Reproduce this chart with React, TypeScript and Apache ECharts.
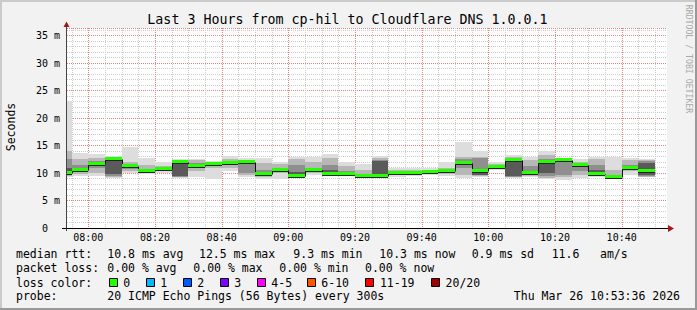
import React, { useEffect, useRef } from "react";
import * as echarts from "echarts";

// ---------- text ----------
const titleText = "Last 3 Hours from cp-hil to Cloudflare DNS 1.0.0.1";
const yAxisName = "Seconds";
const watermark = "RRDTOOL / TOBI OETIKER";

// ---------- time range ----------
const viewStart = "07:53:36";
const viewEnd = "10:53:36";
const binMinutes = 5;

// ---------- bins (5 min each) ----------
const binStarts = [
  "07:50", "07:55", "08:00", "08:05", "08:10", "08:15", "08:20", "08:25", "08:30", "08:35", "08:40", "08:45",
  "08:50", "08:55", "09:00", "09:05", "09:10", "09:15", "09:20", "09:25", "09:30", "09:35", "09:40", "09:45",
  "09:50", "09:55", "10:00", "10:05", "10:10", "10:15", "10:20", "10:25", "10:30", "10:35", "10:40", "10:45",
];

// median rtt (ms)
const medianMs = [
  10.1, 10.6, 11.6, 12.5, 11.2, 10.3, 10.8, 12.0, 11.3, 11.7, 11.9, 12.1,
  9.9, 10.6, 9.5, 10.6, 9.8, 9.9, 9.4, 9.5, 10.1, 10.1, 10.2, 10.4,
  11.8, 10.3, 11.1, 12.3, 10.1, 12.1, 12.4, 11.5, 9.9, 9.3, 11.0, 10.3,
];

// smoke layers (ms), outer -> inner
const smoke1Lo = [9.3, 9.5, 9.5, 9.1, 10.1, 9.9, 10.0, 9.1, 9.2, 8.9, 10.3, 9.3, 8.9, 9.0, 9.1, 9.7, 9.5, 9.6, 9.1, 9.1, 9.3, 9.4, 9.6, 9.4, 9.1, 9.2, 10.6, 9.1, 9.3, 8.9, 8.8, 9.1, 9.3, 9.2, 9.6, 9.2];
const smoke1Hi = [23.2, 13.6, 13.5, 13.1, 14.7, 12.8, 12.1, 12.6, 12.6, 12.2, 13.1, 12.7, 12.7, 12.1, 13.0, 13.0, 13.5, 12.1, 11.7, 13.1, 11.0, 11.0, 11.0, 12.1, 15.7, 14.0, 12.1, 13.3, 12.9, 14.1, 12.7, 12.5, 13.0, 13.0, 12.8, 12.6];
const smoke2Lo = [9.5, 9.8, 10.0, 9.3, 10.4, 10.0, 10.3, 9.2, 10.4, 10.9, 10.9, 9.6, 9.3, 10.0, 9.3, 10.0, 9.6, 9.7, 9.2, 9.2, 9.7, 9.8, 9.9, 9.9, 9.6, 9.4, 10.8, 9.2, 9.5, 9.1, 9.2, 9.6, 9.5, 9.3, 10.3, 9.3];
const smoke2Hi = [14.0, 12.5, 12.8, 12.9, 12.0, 11.4, 11.3, 12.4, 12.3, 12.0, 12.5, 12.4, 11.8, 11.6, 12.6, 12.0, 12.7, 11.3, 10.6, 12.8, 10.6, 10.5, 10.6, 11.0, 13.0, 13.0, 11.6, 12.9, 12.4, 13.2, 12.6, 12.0, 12.6, 10.5, 12.3, 12.4];
const smoke3Lo = [9.7, 10.2, 10.9, 9.5, 10.8, 10.1, 10.6, 9.3, 11.0, 11.4, 11.5, 10.0, 9.6, 10.4, 9.4, 10.4, 9.7, 9.8, 9.3, 9.3, 9.9, 10.0, 10.1, 10.2, 11.0, 9.6, 10.9, 9.3, 9.7, 9.4, 9.6, 10.3, 9.7, 9.35, 10.8, 9.4];
const smoke3Hi = [12.5, 11.5, 12.2, 12.7, 11.6, 10.8, 11.0, 12.3, 11.8, 11.9, 12.1, 12.2, 10.5, 11.0, 11.5, 11.0, 11.5, 10.4, 9.8, 12.4, 10.3, 10.3, 10.4, 10.6, 12.5, 12.7, 11.3, 12.6, 11.2, 12.5, 12.5, 11.8, 11.5, 9.7, 11.5, 12.2];
const smoke4Lo = [9.8, null, 11.3, 9.8, null, null, null, 9.4, null, null, null, null, null, null, 9.4, null, 9.7, null, null, 9.5, null, null, null, null, 11.5, 9.7, null, 9.5, 9.8, 10.0, null, null, 9.8, null, null, 9.6];
const smoke4Hi = [11.0, null, 11.9, 12.5, null, null, null, 12.1, null, null, null, null, null, null, 10.2, null, 10.5, null, null, 12.2, null, null, null, null, 12.0, 10.6, null, 12.4, 10.4, 12.2, null, null, 10.5, null, null, 11.8];

// ---------- axes ----------
const xTickLabels = ["08:00", "08:20", "08:40", "09:00", "09:20", "09:40", "10:00", "10:20", "10:40"];
const yTickValues = [0, 5, 10, 15, 20, 25, 30, 35];
const yMax = 36.4;
const xMinorStep = 5;
const xMajorStep = 20;
const yMajorStep = 5;
const yMinorSplit = 5;

// ---------- legend ----------
const medianLine = [
  ["median rtt:", 16], ["10.8 ms avg", 107.3], ["12.5 ms max", 199], ["9.3 ms min", 293.3],
  ["10.3 ms now", 379.3], ["0.9 ms sd", 471.7], ["11.6", 551.7], ["am/s", 600],
];
const lossLine = [
  ["packet loss:", 16], ["0.00 % avg", 107.3], ["0.00 % max", 193.3], ["0.00 % min", 279.3], ["0.00 % now", 365],
];
const lossLabels = ["0", "1", "2", "3", "4-5", "6-10", "11-19", "20/20"];
const lossColors = ["#26ff00", "#00b8ff", "#0059ff", "#7e00ff", "#ff00ff", "#ff5500", "#ff0000", "#a10000"];
const lossBoxX = [108.7, 145.7, 182.7, 219.7, 256.7, 306.7, 365.3, 431];
const probeLabel = "probe:";
const probeText = "20 ICMP Echo Pings (56 Bytes) every 300s";
const stampText = "Thu Mar 26 10:53:36 2026";

// ---------- styles ----------
const MONO = '"DejaVu Sans Mono", monospace';
const smokeShades = ["#dddddd", "#b7b7b7", "#8f8f8f", "#5a5a5a"];
const medianColor = "#26ff00";
const minorGridColor = "#cccccc";
const majorGridColor = "#ea8080";
const arrowColor = "#a11a1a";

function toMin(s: string): number {
  const p = s.split(":").map(Number);
  return p[0] * 60 + p[1] + (p[2] || 0) / 60;
}
function fmtMin(v: number): string {
  const t = Math.round(v);
  const h = Math.floor(t / 60);
  const m = t % 60;
  return String(h).padStart(2, "0") + ":" + String(m).padStart(2, "0");
}

function txt(text: string, x: number, y: number, size: number, extra: any = {}) {
  return {
    type: "text",
    x,
    y,
    rotation: extra.rotation || 0,
    silent: true,
    style: {
      text,
      x: 0,
      y: 0,
      font: `${size}px ${MONO}`,
      fill: extra.fill || "#000",
      align: extra.align || "left",
      textAlign: extra.align || "left",
      verticalAlign: "middle",
      textVerticalAlign: "middle",
    },
  };
}

// vertical time grid lines drawn through the x axis scale
function vGridSeries(values: number[], color: string) {
  return {
    type: "custom",
    silent: true,
    z: 1,
    encode: { x: 0, y: 1 },
    data: values.map((t) => [t, 1]),
    renderItem: (params: any, api: any) => {
      const cs = params.coordSys;
      const x = Math.round(api.coord([api.value(0), 0])[0]) + 0.5;
      return {
        type: "line",
        shape: { x1: x, y1: cs.y, x2: x, y2: cs.y + cs.height },
        style: { stroke: color, lineWidth: 1, lineDash: [1, 1] },
      };
    },
  };
}

function buildOption() {
  const xMin = toMin(viewStart);
  const xMax = toMin(viewEnd);
  const starts = binStarts.map(toMin);

  const layers = [
    [smoke1Lo, smoke1Hi],
    [smoke2Lo, smoke2Hi],
    [smoke3Lo, smoke3Hi],
    [smoke4Lo, smoke4Hi],
  ];
  const smokeData: number[][] = [];
  layers.forEach(([lo, hi], li) => {
    starts.forEach((s, i) => {
      if (lo[i] == null || hi[i] == null) return;
      smokeData.push([s, s + binMinutes, lo[i] as number, hi[i] as number, li]);
    });
  });

  const medianData = starts.map((s, i) => [s, s + binMinutes, medianMs[i], i > 0 ? medianMs[i - 1] : NaN, i]);

  const vMinor: number[] = [];
  const vMajor: number[] = [];
  for (let t = Math.ceil(xMin / xMinorStep) * xMinorStep; t < xMax; t += xMinorStep) {
    (t % xMajorStep === 0 ? vMajor : vMinor).push(t);
  }

  const graphics: any[] = [];
  // frame
  graphics.push({ type: "rect", shape: { x: 0, y: 0, width: 697, height: 2 }, style: { fill: "#cbcbcb" }, silent: true });
  graphics.push({ type: "rect", shape: { x: 0, y: 0, width: 2, height: 310 }, style: { fill: "#cbcbcb" }, silent: true });
  graphics.push({ type: "rect", shape: { x: 0, y: 308, width: 697, height: 2 }, style: { fill: "#999999" }, silent: true });
  graphics.push({ type: "rect", shape: { x: 695, y: 0, width: 2, height: 310 }, style: { fill: "#999999" }, silent: true });
  // axis extensions and arrows
  graphics.push({ type: "line", shape: { x1: 62, y1: 228.5, x2: 67, y2: 228.5 }, style: { stroke: "#000", lineWidth: 1 }, silent: true });
  graphics.push({ type: "line", shape: { x1: 66.5, y1: 26, x2: 66.5, y2: 231 }, style: { stroke: "#444", lineWidth: 1 }, silent: true });
  graphics.push({ type: "line", shape: { x1: 667, y1: 228.5, x2: 669, y2: 228.5 }, style: { stroke: "#000", lineWidth: 1 }, silent: true });
  graphics.push({ type: "polygon", shape: { points: [[668, 225], [674, 228.5], [668, 232]] }, style: { fill: arrowColor }, silent: true });
  graphics.push({ type: "polygon", shape: { points: [[63.5, 27], [66.5, 21.5], [69.5, 27]] }, style: { fill: arrowColor }, silent: true });
  // titles
  graphics.push(txt(titleText, 347.5, 19.5, 13.3, { align: "center" }));
  graphics.push(txt(yAxisName, 11, 127, 11.5, { align: "center", rotation: Math.PI / 2 }));
  graphics.push(txt(watermark, 688.5, 59, 8.2, { align: "center", rotation: -Math.PI / 2, fill: "#a9a9a9" }));
  // legend
  medianLine.forEach(([t, x]) => graphics.push(txt(t as string, x as number, 254, 11.5)));
  lossLine.forEach(([t, x]) => graphics.push(txt(t as string, x as number, 268, 11.5)));
  graphics.push(txt("loss color:", 16, 282.5, 11.5));
  lossLabels.forEach((lab, i) => {
    const bx = Math.round(lossBoxX[i]) + 0.5;
    graphics.push({ type: "rect", shape: { x: bx, y: 278.5, width: 8, height: 8 }, style: { fill: lossColors[i], stroke: "#000", lineWidth: 1 }, silent: true });
    graphics.push(txt(lab, lossBoxX[i] + 14.6, 282.5, 11.5));
  });
  graphics.push(txt(probeLabel, 16, 296.3, 11.5));
  graphics.push(txt(probeText, 107.3, 296.3, 11.5));
  graphics.push(txt(stampText, 680, 296.3, 11.5, { align: "right" }));

  return {
    animation: false,
    backgroundColor: "#f2f2f2",
    grid: {
      left: 67,
      top: 28,
      width: 600,
      height: 200,
      show: true,
      backgroundColor: "#ffffff",
      borderWidth: 0,
      containLabel: false,
      outerBoundsMode: "none",
    },
    xAxis: {
      type: "value",
      min: xMin,
      max: xMax,
      axisLine: { show: true, lineStyle: { color: "#000", width: 1 } },
      axisTick: { show: false },
      splitLine: { show: false },
      axisLabel: {
        customValues: xTickLabels.map(toMin),
        formatter: (v: number) => fmtMin(v),
        fontFamily: MONO,
        fontSize: 10,
        color: "#000",
        margin: 4,
      },
    },
    yAxis: {
      type: "value",
      min: 0,
      max: yMax,
      interval: yMajorStep,
      axisLine: { show: false },
      axisTick: { show: false },
      splitLine: { show: true, lineStyle: { color: majorGridColor, width: 1, type: [1, 1] } },
      minorTick: { show: false, splitNumber: yMinorSplit },
      minorSplitLine: { show: true, lineStyle: { color: minorGridColor, width: 1, type: [1, 1] } },
      axisLabel: {
        customValues: yTickValues,
        formatter: (v: number) => (v === 0 ? "0\u00a0\u00a0" : v + " m"),
        fontFamily: MONO,
        fontSize: 10,
        color: "#000",
        margin: 7,
      },
    },
    graphic: { elements: graphics },
    series: [
      vGridSeries(vMinor, minorGridColor),
      vGridSeries(vMajor, majorGridColor),
      {
        type: "custom",
        name: "smoke",
        silent: true,
        z: 2,
        encode: { x: [0, 1], y: [2, 3] },
        data: smokeData,
        renderItem: (params: any, api: any) => {
          const cs = params.coordSys;
          const a = api.coord([api.value(0), api.value(3)]);
          const b = api.coord([api.value(1), api.value(2)]);
          const x0 = Math.max(Math.round(a[0]), cs.x);
          const x1 = Math.min(Math.round(b[0]), cs.x + cs.width);
          if (x1 <= x0) return null;
          const y0 = Math.round(a[1]);
          const y1 = Math.round(b[1]);
          return {
            type: "rect",
            shape: { x: x0, y: y0, width: x1 - x0, height: Math.max(1, y1 - y0) },
            style: { fill: smokeShades[api.value(4)] },
          };
        },
      },
      {
        type: "custom",
        name: "median",
        silent: true,
        z: 3,
        encode: { x: [0, 1], y: 2 },
        data: medianData,
        renderItem: (params: any, api: any) => {
          const cs = params.coordSys;
          const a = api.coord([api.value(0), api.value(2)]);
          const b = api.coord([api.value(1), api.value(2)]);
          const rawX0 = Math.round(a[0]);
          const x0 = Math.max(rawX0, cs.x);
          const x1 = Math.min(Math.round(b[0]), cs.x + cs.width);
          if (x1 <= x0) return null;
          const y = Math.round(a[1]);
          const children: any[] = [];
          const prev = api.value(3);
          if (!isNaN(prev) && rawX0 >= cs.x) {
            const yp = Math.round(api.coord([api.value(0), prev])[1]);
            children.push({ type: "line", shape: { x1: x0 + 0.5, y1: yp + 0.5, x2: x0 + 0.5, y2: y + 0.5 }, style: { stroke: "#111", lineWidth: 1 } });
          }
          children.push({ type: "line", shape: { x1: x0, y1: y + 1.5, x2: x1, y2: y + 1.5 }, style: { stroke: "#222", lineWidth: 1 } });
          children.push({ type: "rect", shape: { x: x0, y: y - 2, width: x1 - x0, height: 3 }, style: { fill: medianColor } });
          return { type: "group", children };
        },
      },
    ],
  };
}

export default function App() {
  const ref = useRef<HTMLDivElement>(null);
  useEffect(() => {
    if (!ref.current) return;
    const chart = echarts.init(ref.current, null, { renderer: "svg", width: 697, height: 310 });
    chart.setOption(buildOption() as any);
    return () => chart.dispose();
  }, []);
  return <div ref={ref} style={{ position: "fixed", left: 0, top: 0, width: 697, height: 310 }} />;
}
